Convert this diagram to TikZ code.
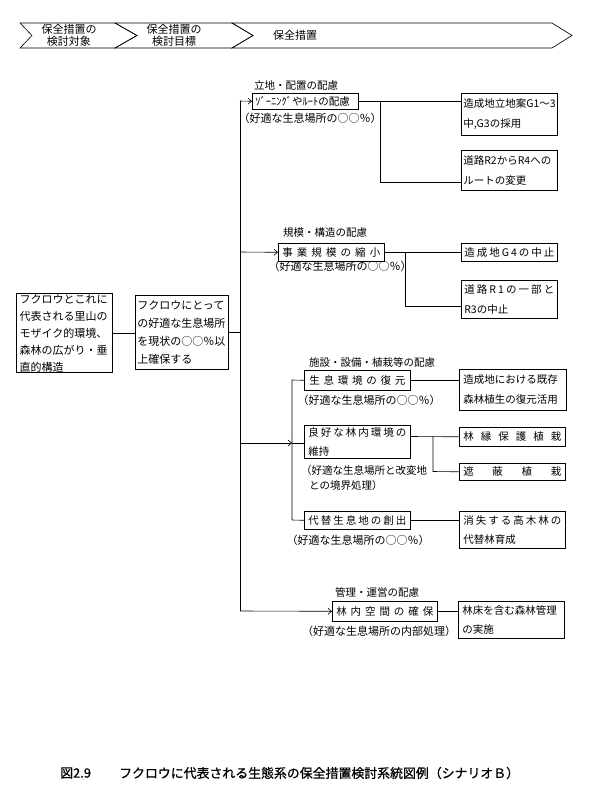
\documentclass[tikz,border=0pt]{standalone}
\usepackage{fontspec}
\setmainfont{Noto Sans CJK JP}
\newfontfamily\capfont{Noto Sans CJK JP}[FakeBold=0.8]
\usetikzlibrary{arrows.meta}
\newcommand\fb{\fontsize{10.5}{20}\selectfont}
\newcommand\fp{\fontsize{11}{13}\selectfont}
\newcommand\fl{\fontsize{10.5}{12}\selectfont}
\newcommand\fh{\fontsize{11}{12.5}\selectfont}
\newcommand\fcap{\capfont\fontsize{12.9}{14}\selectfont}
\newcommand\sprd[2]{\makebox[#1][s]{#2}}
\tikzset{
  bx/.style={draw, line width=0.6pt, inner sep=0pt, anchor=north west, font=\fb, align=left},
  lbl/.style={font=\fl, inner sep=0pt},
  ptx/.style={font=\fp, inner sep=0pt},
  con/.style={line width=0.6pt},
  arr/.style={line width=0.6pt, -{Straight Barb[length=3.5pt,width=6pt]}},
  hd/.style={line width=0.6pt, line join=miter},
}
\begin{document}
\begin{tikzpicture}[x=1pt,y=-1pt]
\useasboundingbox[fill=white] (0,0) rectangle (600,808);

% header chevrons
\draw[hd] (20,23) -- (115,23) -- (137,35.5) -- (115,48) -- (20,48) -- (32,35.5) -- cycle;
\draw[hd] (115,23) -- (232,23) -- (253,35.5) -- (232,48) -- (115,48) -- (137,35.5) -- cycle;
\draw[hd] (232,23) -- (552,23) -- (572,35.5) -- (552,48) -- (232,48) -- (253,35.5) -- cycle;
\node[font=\fh, align=center, inner sep=0pt] (h1) at (69,35.5) {保全措置の\\検討対象};
\node[font=\fh, align=center, inner sep=0pt] (h2) at (174,35.5) {保全措置の\\検討目標};
\node[font=\fh, anchor=west, inner sep=0pt] (h3) at (273,35.5) {保全措置};

% left boxes
\node[bx, line width=1.2pt, minimum width=96pt, minimum height=79pt, text width=90pt, font=\fontsize{11}{17}\selectfont] (a) at (16,293)
  {フクロウとこれに\\代表される里山の\\モザイク的環境、\\森林の広がり・垂\\直的構造};
\node[bx, minimum width=93pt, minimum height=74pt, text width=89pt, font=\fontsize{11}{18}\selectfont] (b) at (135,295)
  {フクロウにとって\\の好適な生息場所\\を現状の○○％以\\上確保する};
\draw[con] (a.east) -- (a.east -| b.west);
\coordinate (t0) at (240,332);
\draw[con] (b.east |- t0) -- (t0);

% trunk
\coordinate (ttop) at (240,101);
\coordinate (tbot) at (240,611);
\draw[con] (ttop) -- (tbot);

% branch 1
\node[lbl] (l1) at (296,86) {立地・配置の配慮};
\node[bx, minimum width=106pt, minimum height=16pt, text width=100pt] (z) at (252,93) {ｿﾞｰﾆﾝｸﾞやﾙｰﾄの配慮};
\node[ptx] (p1) at (310,118) {（好適な生息場所の○○％）};
\node[bx, minimum width=96pt, minimum height=42pt, text width=92pt] (r1a) at (461,93) {造成地立地案G1～3\\中,G3の採用};
\node[bx, minimum width=96pt, minimum height=40pt, text width=92pt] (r1b) at (461,150) {道路R2からR4への\\ルートの変更};
\draw[arr] (ttop) -- (z.west);
\draw[con] (z.east) -- (z.east -| r1a.west);
\coordinate (b1) at (380,101);
\coordinate (b1d) at (380,182);
\draw[con] (b1) -- (b1d) -- (b1d -| r1b.west);

% branch 2
\node[lbl] (l2) at (325,233) {規模・構造の配慮};
\node[bx, minimum width=106pt, minimum height=18pt, text width=98pt] (j) at (278,243)
  {\sprd{98pt}{事\hfill 業\hfill 規\hfill 模\hfill の\hfill 縮\hfill 小}};
\node[ptx] (p2) at (340,266) {（好適な生息場所の○○％）};
\node[bx, minimum width=96pt, minimum height=18pt, text width=90pt] (r2a) at (461,243)
  {\sprd{90pt}{造\hfill 成\hfill 地\hfill G\hfill 4\hfill の\hfill 中\hfill 止}};
\node[bx, minimum width=96pt, minimum height=38pt, text width=90pt] (r2b) at (461,280)
  {\sprd{90pt}{道\hfill 路\hfill R\hfill 1\hfill の\hfill 一\hfill 部\hfill と}\\R3の中止};
\coordinate (t2) at (240,252);
\draw[arr] (t2) -- (j.west);
\draw[con] (j.east) -- (j.east -| r2a.west);
\coordinate (b2) at (405,252);
\coordinate (b2d) at (405,306);
\draw[con] (b2) -- (b2d) -- (b2d -| r2b.west);

% branch 3
\node[lbl] (l3) at (372,362) {施設・設備・植栽等の配慮};
\node[bx, minimum width=106pt, minimum height=20pt, text width=96pt] (s1) at (304,370)
  {\sprd{96pt}{生\hfill 息\hfill 環\hfill 境\hfill の\hfill 復\hfill 元}};
\node[ptx] (p3) at (369,400) {（好適な生息場所の○○％）};
\node[bx, minimum width=107pt, minimum height=41pt, text width=99pt] (r3a) at (459,369) {造成地における既存\\森林植生の復元活用};
\node[bx, minimum width=106pt, minimum height=33pt, text width=98pt, font=\fontsize{10.5}{19}\selectfont] (s2) at (304,425)
  {\sprd{98pt}{良\hfill 好\hfill な\hfill 林\hfill 内\hfill 環\hfill 境\hfill の}\\維持};
\node[ptx, anchor=west, align=left, font=\fontsize{10.5}{15}\selectfont] (p4) at (301,478.5) {（好適な生息場所と改変地\\\hspace*{8pt}との境界処理）};
\node[bx, minimum width=106pt, minimum height=19pt, text width=98pt] (r3b) at (459,427)
  {\sprd{98pt}{林\hfill 縁\hfill 保\hfill 護\hfill 植\hfill 栽}};
\node[bx, minimum width=106pt, minimum height=17pt, text width=98pt] (r3c) at (459,463)
  {\sprd{98pt}{遮\hfill 蔽\hfill 植\hfill 栽}};
\node[bx, minimum width=106pt, minimum height=18pt, text width=98pt] (s3) at (304,511)
  {\sprd{98pt}{代\hfill 替\hfill 生\hfill 息\hfill 地\hfill の\hfill 創\hfill 出}};
\node[ptx] (p5) at (358,540) {（好適な生息場所の○○％）};
\node[bx, minimum width=106pt, minimum height=37pt, text width=98pt, font=\fontsize{10.5}{19}\selectfont] (r3d) at (459,511)
  {\sprd{98pt}{消\hfill 失\hfill す\hfill る\hfill 高\hfill 木\hfill 林\hfill の}\\代替林育成};
\coordinate (st1) at (292,380);
\coordinate (st2) at (292,443);
\coordinate (st3) at (292,520);
\coordinate (t3) at (240,443);
\draw[con] (s1.west) -- (st1) -- (st3) -- (s3.west);
\draw[arr] (t3) -- (st2);
\draw[con] (st2) -- (st2 -| s2.west);
\draw[con] (s1.east) -- (s1.east -| r3a.west);
\coordinate (b3) at (433,436.5);
\coordinate (b3d) at (433,471.5);
\draw[con] (b3 -| s2.east) -- (r3b.west);
\draw[con] (b3) -- (b3d) -- (r3c.west);
\draw[con] (s3.east) -- (s3.east -| r3d.west);

% branch 4
\node[lbl] (l4) at (377,592) {管理・運営の配慮};
\node[bx, minimum width=105pt, minimum height=20pt, text width=97pt] (k) at (332,601)
  {\sprd{97pt}{林\hfill 内\hfill 空\hfill 間\hfill の\hfill 確\hfill 保}};
\node[ptx] (p6) at (379,631) {（好適な生息場所の内部処理）};
\node[bx, minimum width=106pt, minimum height=37pt, text width=98pt, font=\fontsize{10.5}{19}\selectfont] (r4) at (458,601) {林床を含む森林管理\\の実施};
\draw[arr] (tbot) -- (k.west);
\draw[con] (k.east) -- (k.east -| r4.west);

% caption
\node[font=\fcap, anchor=west, inner sep=0pt] (c1) at (60,773) {図2.9};
\node[font=\fcap, anchor=west, inner sep=0pt] (c2) at (119,773) {フクロウに代表される生態系の保全措置検討系統図例（シナリオＢ）};
\end{tikzpicture}
\end{document}
